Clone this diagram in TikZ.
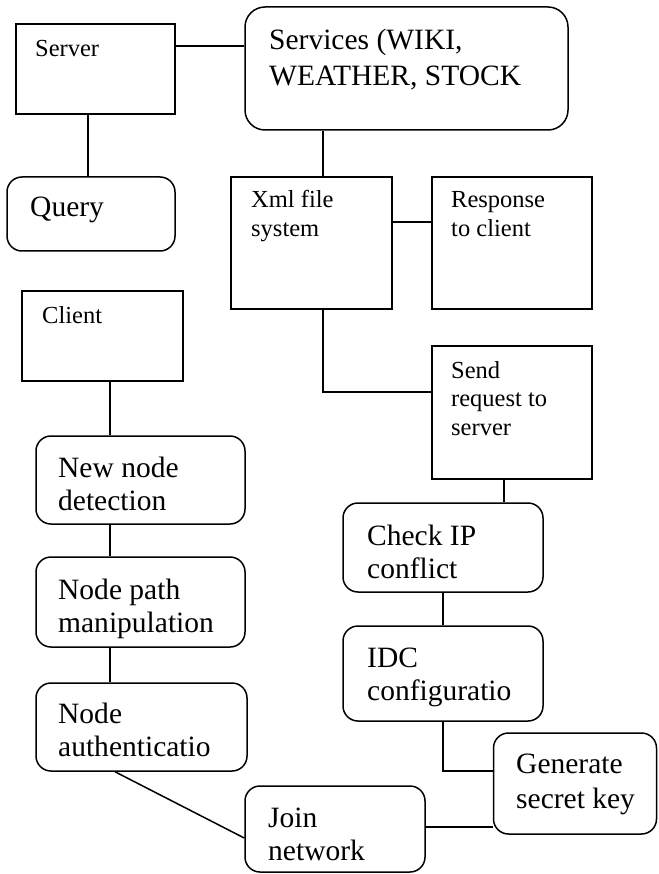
\documentclass[tikz,border=0pt]{standalone}
\usepackage{fontspec}
\setmainfont{Liberation Serif}
\begin{document}
\begin{tikzpicture}[x=1pt,y=-1pt,
  box/.style={draw=black,line width=1.5pt,inner sep=0pt,fill=white},
  sq/.style={box},
  rnd/.style={box,rounded corners=15pt},
  big/.style={anchor=base west,inner sep=0pt,font=\fontsize{29.5}{33.5}\selectfont},
  small/.style={anchor=base west,inner sep=0pt,font=\fontsize{24.5}{29}\selectfont},
  conn/.style={draw=black,line width=1.5pt}]
\useasboundingbox (0,0) rectangle (658,874);
% boxes
\node[sq, minimum width=159pt, minimum height=90pt] (server) at (95.5,69) {};
\node[rnd, rounded corners=20pt, minimum width=323pt, minimum height=123pt] (services) at (406.5,68.5) {};
\node[rnd, minimum width=168pt, minimum height=74pt] (query) at (91,214) {};
\node[sq, minimum width=161pt, minimum height=132pt] (xml) at (311.5,243) {};
\node[sq, minimum width=160pt, minimum height=132pt] (response) at (512,243) {};
\node[sq, minimum width=161pt, minimum height=90pt] (client) at (102.5,336) {};
\node[rnd, minimum width=209pt, minimum height=88pt] (newnode) at (140.5,480) {};
\node[rnd, minimum width=209pt, minimum height=90pt] (nodepath) at (140.5,602) {};
\node[rnd, minimum width=211pt, minimum height=88pt] (nodeauth) at (141.5,727) {};
\node[sq, minimum width=160pt, minimum height=133pt] (send) at (512,412.5) {};
\node[rnd, minimum width=200pt, minimum height=89pt] (check) at (443,547.5) {};
\node[rnd, minimum width=200pt, minimum height=95pt] (idc) at (443,673.5) {};
\node[rnd, minimum width=163pt, minimum height=101pt] (generate) at (575,783.5) {};
\node[rnd, minimum width=180pt, minimum height=86pt] (join) at (335,829) {};
% texts
\node[small] (server-t) at (35,57) {Server};
\node[big, font=\fontsize{29.5}{36}\selectfont] (services-t) at (269,50) {\vtop{\hbox{Services (WIKI,}\hbox{WEATHER, STOCK}}};
\node[big] (query-t) at (30,217) {Query};
\node[small] (xml-t) at (251,208) {\vtop{\hbox{Xml file}\hbox{system}}};
\node[small] (response-t) at (451,208) {\vtop{\hbox{Response}\hbox{to client}}};
\node[small] (client-t) at (42,323) {Client};
\node[big] (newnode-t) at (58,477) {\vtop{\hbox{New node}\hbox{detection}}};
\node[big] (nodepath-t) at (58,599) {\vtop{\hbox{Node path}\hbox{manipulation}}};
\node[big] (nodeauth-t) at (58,723) {\vtop{\hbox{Node}\hbox{authenticatio}}};
\node[small, font=\fontsize{24.5}{28.5}\selectfont] (send-t) at (451,378) {\vtop{\hbox{Send}\hbox{request to}\hbox{server}}};
\node[big] (check-t) at (367,545) {\vtop{\hbox{Check IP}\hbox{conflict}}};
\node[big] (idc-t) at (367,667) {\vtop{\hbox{IDC}\hbox{configuratio}}};
\node[big, font=\fontsize{29.5}{35}\selectfont] (generate-t) at (516,773) {\vtop{\hbox{Generate}\hbox{secret key}}};
\node[big] (join-t) at (268,827) {\vtop{\hbox{Join}\hbox{network}}};
% connectors
\draw[conn] ([yshift=-23]server.north east) -- ([yshift=-23]server.north east -| services.west);
\draw[conn] ([xshift=-7.5]server.south) -- ([xshift=-7.5]server.south |- query.north);
\draw[conn] ([xshift=11.5]xml.north) -- ([xshift=11.5]xml.north |- services.south);
\draw[conn] ([yshift=21]xml.east) -- ([yshift=21]xml.east -| response.west);
\draw[conn] ([xshift=11.5]xml.south) |- ([yshift=20.5]send.west);
\draw[conn] ([xshift=7.5]client.south) -- ([xshift=7.5]client.south |- newnode.north);
\draw[conn] ([xshift=-30.5]newnode.south) -- ([xshift=-30.5]newnode.south |- nodepath.north);
\draw[conn] ([xshift=-30.5]nodepath.south) -- ([xshift=-30.5]nodepath.south |- nodeauth.north);
\draw[conn] ([xshift=-26.5]nodeauth.south) -- ([yshift=-9]join.west);
\draw[conn] ([xshift=-8]send.south) -- ([xshift=-8]send.south |- check.north);
\draw[conn] (check.south) -- (idc.north);
\draw[conn] (idc.south) |- ([yshift=12.5]generate.west);
\draw[conn] ([yshift=2]join.east) -- ([yshift=2]join.east -| generate.west);
\end{tikzpicture}
\end{document}
